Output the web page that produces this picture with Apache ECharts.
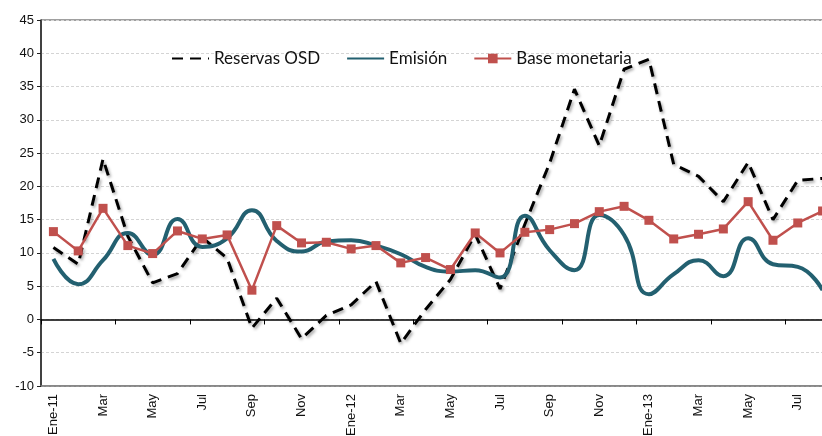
<!DOCTYPE html>
<html>
<head>
<meta charset="utf-8">
<script src="https://cdn.jsdelivr.net/npm/echarts@6/dist/echarts.min.js"></script>
<style>
  html, body { margin: 0; padding: 0; background: #fff; }
  #chart { width: 822px; height: 436px; }
</style>
</head>
<body>
<div id="chart"></div>
<script>
// meses (ene-2011 .. ago-2013)
const categories = [
  "Ene-11", "Feb", "Mar", "Abr", "May", "Jun", "Jul", "Ago", "Sep", "Oct", "Nov", "Dic",
  "Ene-12", "Feb", "Mar", "Abr", "May", "Jun", "Jul", "Ago", "Sep", "Oct", "Nov", "Dic",
  "Ene-13", "Feb", "Mar", "Abr", "May", "Jun", "Jul", "Ago"
];

const reservasOSD = [
  10.8, 8.3, 24.1, 12.5, 5.5, 6.9, 12.3, 9.2, -1.3, 3.2, -2.9, 0.6,
  2.2, 5.7, -3.6, 1.5, 6.0, 12.8, 4.6, 14.3, 23.5, 34.6, 26.1, 37.6,
  39.1, 23.3, 21.5, 17.7, 23.6, 15.0, 20.9, 21.2
];

const emision = [
  9.1, 5.3, 8.9, 13.0, 9.7, 15.1, 10.9, 12.2, 16.4, 11.8, 10.2, 11.7,
  11.9, 11.1, 9.8, 7.9, 7.2, 7.4, 6.3, 15.6, 10.4, 7.4, 15.7, 12.7,
  3.8, 6.8, 8.9, 6.5, 12.2, 8.3, 7.9, 4.4
];

const baseMonetaria = [
  13.2, 10.3, 16.7, 11.1, 9.9, 13.3, 12.1, 12.7, 4.4, 14.1, 11.5, 11.6,
  10.6, 11.1, 8.5, 9.3, 7.5, 13.0, 10.0, 13.1, 13.5, 14.4, 16.2, 17.0,
  14.9, 12.1, 12.8, 13.6, 17.7, 11.9, 14.5, 16.3
];

const yMin = -10;
const yMax = 45;
const yStep = 5;

const myChart = echarts.init(document.getElementById("chart"), null, { renderer: "canvas" });

const option = {
  animation: false,
  textStyle: { fontFamily: "Liberation Sans, Arial, sans-serif" },
  legend: {
    left: 166,
    top: 45,
    itemWidth: 37,
    itemHeight: 12,
    itemGap: 26,
    textStyle: { fontFamily: "Lato, sans-serif", fontSize: 17, color: "#111" },
    // en las dos primeras solo la línea, sin punto
    data: [
      { name: "Reservas OSD", itemStyle: { opacity: 0 } },
      { name: "Emisión", itemStyle: { opacity: 0 } },
      { name: "Base monetaria" }
    ]
  },
  grid: {
    left: 41,
    top: 20,
    bottom: 50,
    right: -13, // el último mes queda cortado en el borde
    outerBoundsMode: "none", // las etiquetas pueden salirse (como en el original)
    show: true,
    borderColor: "#404040",
    borderWidth: 1
  },
  xAxis: [
    {
      // etiquetas abajo
      type: "category",
      data: categories,
      position: "bottom",
      boundaryGap: true,
      axisLine: { onZero: false, lineStyle: { color: "#808080", width: 1.5 } },
      axisTick: { show: false },
      axisLabel: {
        interval: 1,
        rotate: 90,
        margin: 8,
        fontSize: 13,
        color: "#111"
      },
      splitLine: { show: false }
    },
    {
      // eje en cero con marcas
      type: "category",
      data: categories,
      position: "top",
      boundaryGap: true,
      axisLine: { onZero: true, lineStyle: { color: "#000", width: 1.5 } },
      axisTick: { show: true, inside: true, length: 5, lineStyle: { color: "#000", width: 1 } },
      axisLabel: { show: false },
      splitLine: { show: false }
    }
  ],
  yAxis: {
    type: "value",
    min: yMin,
    max: yMax,
    interval: yStep,
    axisLine: { show: true, lineStyle: { color: "#222", width: 1.5 } },
    axisTick: { show: true, length: 4, lineStyle: { color: "#222" } },
    axisLabel: { fontSize: 13, color: "#111", margin: 7 },
    splitLine: { show: true, lineStyle: { color: "#d4d4d4", type: [3, 2], width: 1 } }
  },
  series: [
    {
      name: "Reservas OSD",
      type: "line",
      data: reservasOSD,
      symbol: "none",
      smooth: false,
      z: 3,
      lineStyle: {
        color: "#000",
        width: 3,
        type: [11, 7],
        shadowColor: "rgba(0,0,0,0.35)",
        shadowBlur: 3,
        shadowOffsetX: 1.5,
        shadowOffsetY: 2
      },
      itemStyle: { color: "#000" }
    },
    {
      name: "Emisión",
      type: "line",
      data: emision,
      symbol: "none",
      smooth: 0.5,
      z: 4,
      lineStyle: { color: "#236070", width: 4 },
      itemStyle: { color: "#236070" }
    },
    {
      name: "Base monetaria",
      type: "line",
      data: baseMonetaria,
      symbol: "rect",
      symbolSize: 9,
      showAllSymbol: true,
      z: 5,
      lineStyle: { color: "#c0504d", width: 2.5 },
      itemStyle: { color: "#c0504d", borderWidth: 0 }
    }
  ]
};

option && myChart.setOption(option);
</script>
</body>
</html>
